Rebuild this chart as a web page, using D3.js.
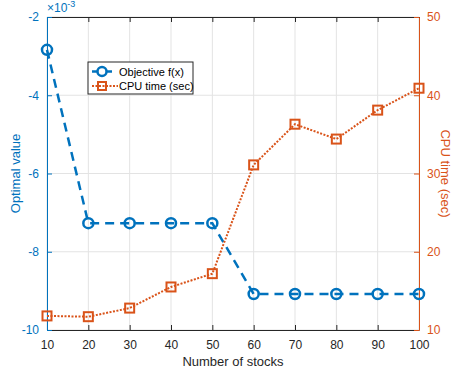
<!DOCTYPE html>
<html>
<head>
<meta charset="utf-8">
<script src="https://cdn.jsdelivr.net/npm/d3@7"></script>
<style>
  body { margin: 0; background: #fff; }
  svg { font-family: "Liberation Sans", Arial, sans-serif; }
</style>
</head>
<body>
<script>
//chart data
var stocks = [10, 20, 30, 40, 50, 60, 70, 80, 90, 100];
var objective = [-2.84, -7.27, -7.27, -7.27, -7.27, -9.08, -9.08, -9.08, -9.08, -9.08]; // x 10^-3
var cpuTime = [11.8, 11.7, 12.8, 15.5, 17.2, 31.1, 36.3, 34.4, 38.1, 40.9];
var leftTicks = [-10, -8, -6, -4, -2];
var rightTicks = [10, 20, 30, 40, 50];

(function(){
var blue = "#0072BD", orange = "#D95319";

//plot frame
var width = 455, height = 377,
    plotLeft = 47, plotRight = 419, plotTop = 17, plotBottom = 330;

var svg = d3.select("body").append("svg")
    .attr("width", width)
    .attr("height", height);

var x = d3.scaleLinear().domain([10, 100]).range([plotLeft, plotRight]);
var yL = d3.scaleLinear().domain([-10, -2]).range([plotBottom, plotTop]);
var yR = d3.scaleLinear().domain([10, 50]).range([plotBottom, plotTop]);

//plain hyphen minus like matlab
var fmt = function(d){ return String(d); };

//grid
svg.append("g").selectAll("line")
    .data(stocks)
    .enter().append("line")
    .attr("x1", function(d){ return x(d); })
    .attr("x2", function(d){ return x(d); })
    .attr("y1", plotTop).attr("y2", plotBottom)
    .attr("stroke", "#e3e3e3").attr("stroke-width", 1);
svg.append("g").selectAll("line")
    .data(leftTicks)
    .enter().append("line")
    .attr("x1", plotLeft).attr("x2", plotRight)
    .attr("y1", function(d){ return yL(d); })
    .attr("y2", function(d){ return yL(d); })
    .attr("stroke", "#e3e3e3").attr("stroke-width", 1);

//axes
var xAxis = svg.append("g")
    .attr("transform", "translate(0," + plotBottom + ")")
    .call(d3.axisBottom(x).tickValues(stocks).tickFormat(fmt).tickSizeInner(-5).tickSizeOuter(0).tickPadding(10));
xAxis.select(".domain").attr("stroke", "#262626");
xAxis.selectAll(".tick line").attr("stroke", "#262626");
xAxis.selectAll("text").attr("fill", "#262626").style("font-size", "12px");

var xTop = svg.append("g")
    .attr("transform", "translate(0," + plotTop + ")")
    .call(d3.axisTop(x).tickValues(stocks).tickSizeInner(-5).tickSizeOuter(0).tickFormat(""));
xTop.select(".domain").attr("stroke", "#262626");
xTop.selectAll(".tick line").attr("stroke", "#262626");

var lAxis = svg.append("g")
    .attr("transform", "translate(" + plotLeft + ",0)")
    .call(d3.axisLeft(yL).tickValues(leftTicks).tickFormat(fmt).tickSizeInner(-5).tickSizeOuter(0).tickPadding(8));
lAxis.select(".domain").attr("stroke", blue);
lAxis.selectAll(".tick line").attr("stroke", blue);
lAxis.selectAll("text").attr("fill", blue).style("font-size", "12px");

var rAxis = svg.append("g")
    .attr("transform", "translate(" + plotRight + ",0)")
    .call(d3.axisRight(yR).tickValues(rightTicks).tickFormat(fmt).tickSizeInner(-5).tickSizeOuter(0).tickPadding(8));
rAxis.select(".domain").attr("stroke", orange);
rAxis.selectAll(".tick line").attr("stroke", orange);
rAxis.selectAll("text").attr("fill", orange).style("font-size", "12px");

//exponent label
var expo = svg.append("text")
    .attr("x", plotLeft).attr("y", 12)
    .attr("fill", blue).style("font-size", "12px");
expo.append("tspan").text("\u00d710");
expo.append("tspan").attr("dy", -5).style("font-size", "9px").text("-3");

//axis titles
svg.append("text")
    .attr("transform", "translate(20," + ((plotTop + plotBottom) / 2) + ") rotate(-90)")
    .attr("text-anchor", "middle")
    .attr("fill", blue).style("font-size", "13px")
    .text("Optimal value");
svg.append("text")
    .attr("transform", "translate(441," + ((plotTop + plotBottom) / 2) + ") rotate(90)")
    .attr("text-anchor", "middle")
    .attr("fill", orange).style("font-size", "13px")
    .text("CPU time (sec)");
svg.append("text")
    .attr("x", (plotLeft + plotRight) / 2).attr("y", 366)
    .attr("text-anchor", "middle")
    .attr("fill", "#262626").style("font-size", "13px")
    .text("Number of stocks");

//objective line
var objLine = d3.line()
    .x(function(d, i){ return x(stocks[i]); })
    .y(function(d){ return yL(d); });
svg.append("path")
    .datum(objective)
    .attr("d", objLine)
    .attr("fill", "none")
    .attr("stroke", blue)
    .attr("stroke-width", 2.5)
    .attr("stroke-dasharray", "9,6");
svg.append("g").selectAll("circle")
    .data(objective)
    .enter().append("circle")
    .attr("cx", function(d, i){ return x(stocks[i]); })
    .attr("cy", function(d){ return yL(d); })
    .attr("r", 5)
    .attr("fill", "none")
    .attr("stroke", blue)
    .attr("stroke-width", 2.5);

//cpu time line
var cpuLine = d3.line()
    .x(function(d, i){ return x(stocks[i]); })
    .y(function(d){ return yR(d); });
svg.append("path")
    .datum(cpuTime)
    .attr("d", cpuLine)
    .attr("fill", "none")
    .attr("stroke", orange)
    .attr("stroke-width", 2)
    .attr("stroke-dasharray", "2,1.5");
svg.append("g").selectAll("rect")
    .data(cpuTime)
    .enter().append("rect")
    .attr("x", function(d, i){ return x(stocks[i]) - 4.5; })
    .attr("y", function(d){ return yR(d) - 4.5; })
    .attr("width", 9).attr("height", 9)
    .attr("fill", "none")
    .attr("stroke", orange)
    .attr("stroke-width", 2);

//legend
var legend = svg.append("g").attr("transform", "translate(88,62)");
legend.append("rect")
    .attr("width", 105).attr("height", 32)
    .attr("fill", "#fff")
    .attr("stroke", "#262626").attr("stroke-width", 1);
legend.append("line")
    .attr("x1", 4).attr("x2", 24).attr("y1", 9.5).attr("y2", 9.5)
    .attr("stroke", blue).attr("stroke-width", 2.5);
legend.append("circle")
    .attr("cx", 14).attr("cy", 9.5).attr("r", 4.5)
    .attr("fill", "#fff").attr("stroke", blue).attr("stroke-width", 2.5);
legend.append("line")
    .attr("x1", 4).attr("x2", 30).attr("y1", 24).attr("y2", 24)
    .attr("stroke", orange).attr("stroke-width", 2).attr("stroke-dasharray", "2,1.5");
legend.append("rect")
    .attr("x", 10).attr("y", 20).attr("width", 8).attr("height", 8)
    .attr("fill", "none").attr("stroke", orange).attr("stroke-width", 2);
legend.append("text")
    .attr("x", 31).attr("y", 13.5)
    .attr("fill", "#000").style("font-size", "11px")
    .text("Objective f(x)");
legend.append("text")
    .attr("x", 31).attr("y", 28)
    .attr("fill", "#000").style("font-size", "11px")
    .text("CPU time (sec)");
})();
</script>
</body>
</html>
